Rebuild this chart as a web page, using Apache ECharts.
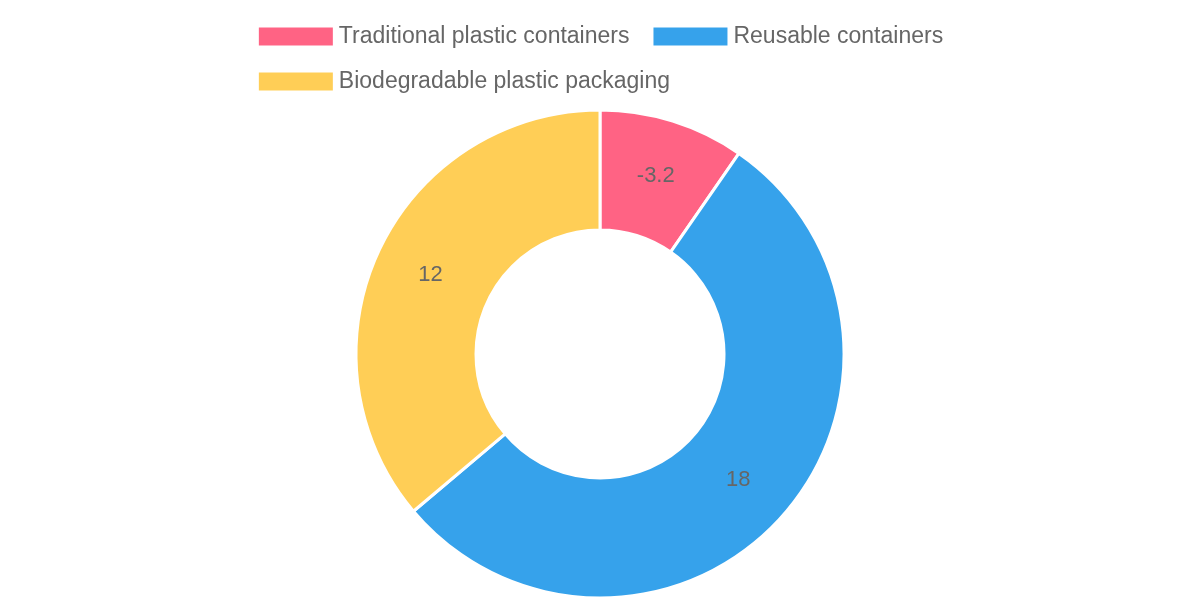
<!DOCTYPE html>
<html>
<head>
<meta charset="utf-8">
<script src="https://cdn.jsdelivr.net/npm/echarts@6/dist/echarts.min.js"></script>
<style>html,body{margin:0;padding:0;background:#fff}#main{width:1200px;height:600px}</style>
</head>
<body>
<div id="main"></div>
<script>
// 数据
var categories = ['Traditional plastic containers', 'Reusable containers', 'Biodegradable plastic packaging']
var values = [-3.2, 18, 12]
var colors = ['#FF6384', '#36A2EB', '#FFCE56']

var chart = echarts.init(document.getElementById('main'))

var data = categories.map(function (c, i) {
  return {
    name: c,
    value: Math.abs(values[i]), // 扇区按绝对值
    raw: values[i],
    itemStyle: { color: colors[i] },
  }
})

chart.setOption({
  animation: false,
  legend: {
    top: 20,
    left: 'center',
    width: 780,
    itemWidth: 76,
    itemHeight: 20,
    itemGap: 22,
    icon: 'rect',
    textStyle: { color: '#666', fontSize: 23, fontFamily: 'Liberation Sans, Arial' },
  },
  series: [
    {
      type: 'pie',
      center: [600, 354],
      radius: [124, 244],
      startAngle: 90,
      clockwise: true,
      data: data,
      itemStyle: { borderColor: '#fff', borderWidth: 3 },
      label: {
        show: true,
        position: 'inside',
        color: '#666',
        fontSize: 22,
        fontFamily: 'Liberation Sans, Arial',
        formatter: function (p) {
          return p.data.raw
        },
      },
      labelLine: { show: false },
      emphasis: { disabled: true },
    },
  ],
})
</script>
</body>
</html>
